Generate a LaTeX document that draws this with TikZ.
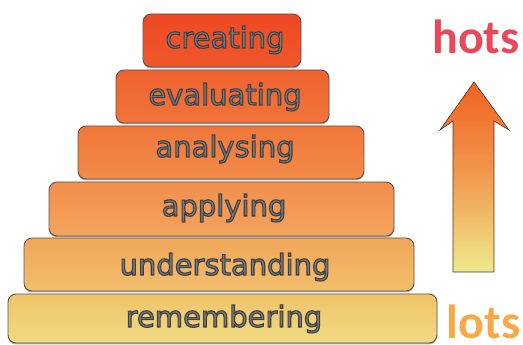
\documentclass[tikz,border=0pt]{standalone}
\usepackage{fontspec}
\setmainfont{DejaVu Sans}
\newfontfamily\calib{Carlito}
\usetikzlibrary{shadows}
\definecolor{tierline}{HTML}{555555}
\definecolor{txtgray}{HTML}{7A7A7A}
\definecolor{cAt}{HTML}{EE4923}
\definecolor{cAb}{HTML}{F0572B}
\definecolor{cBt}{HTML}{EF6230}
\definecolor{cBb}{HTML}{F2743A}
\definecolor{cCt}{HTML}{F0773A}
\definecolor{cCb}{HTML}{F38B48}
\definecolor{cDt}{HTML}{F28E4E}
\definecolor{cDb}{HTML}{F3A45C}
\definecolor{cEt}{HTML}{F1A75A}
\definecolor{cEb}{HTML}{F2BE6C}
\definecolor{cFt}{HTML}{F0C46A}
\definecolor{cFb}{HTML}{F0DA82}
\definecolor{arrtop}{HTML}{F0621E}
\definecolor{arrmid}{HTML}{F29A50}
\definecolor{arrbot}{HTML}{EEEA8C}
\definecolor{hotscol}{HTML}{E9485A}
\definecolor{lotscol}{HTML}{F9A845}
\newcommand\outlined[1]{\special{pdf:literal direct 0.25 0.25 0.25 RG 1.1 w 2 Tr}#1\special{pdf:literal direct 0 Tr}}
\begin{document}
\begin{tikzpicture}[x=1pt,y=1pt,
  tier/.style={draw=tierline, line width=0.9pt, rounded corners=8pt, inner sep=0pt,
    drop shadow={shadow xshift=0pt, shadow yshift=-1.5pt, opacity=0.3, fill=black}},
  lbl/.style={anchor=base, inner sep=0pt, font=\fontsize{29}{31}\selectfont, text=txtgray},
  side/.style={anchor=base, inner sep=0pt, font=\calib\bfseries\fontsize{48}{50}\selectfont},
]
\useasboundingbox (0,0) rectangle (523,345);
% tiers
\node[tier, top color=cAt, bottom color=cAb, minimum width=158, minimum height=53] (creating) at (222,304.5) {};
\node[tier, top color=cBt, bottom color=cBb, minimum width=213, minimum height=53] (evaluating) at (222.5,248.5) {};
\node[tier, top color=cCt, bottom color=cCb, minimum width=286, minimum height=53] (analysing) at (221,192.5) {};
\node[tier, top color=cDt, bottom color=cDb, minimum width=345, minimum height=54] (applying) at (221.5,136) {};
\node[tier, top color=cEt, bottom color=cEb, minimum width=390, minimum height=53] (understanding) at (219,80.5) {};
\node[tier, top color=cFt, bottom color=cFb, minimum width=429, minimum height=49] (remembering) at (222.5,26.5) {};
% labels
\node[lbl] (tA) at (225,297) {\outlined{creating}};
\node[lbl] (tB) at (225,240) {\outlined{evaluating}};
\node[lbl] (tC) at (225,188) {\outlined{analysing}};
\node[lbl] (tD) at (224,129) {\outlined{applying}};
\node[lbl] (tE) at (225,70) {\outlined{understanding}};
\node[lbl] (tF) at (224,18) {\outlined{remembering}};
% arrow
\draw[draw=black!60!brown, line width=0.6pt, top color=arrtop, bottom color=arrbot, middle color=arrmid]
  (474,263) -- (509,215) -- (494,224) -- (494,73) -- (453,73) -- (453,224) -- (440,215) -- cycle;
% side labels
\node[side, text=hotscol] (hots) at (476,291) {hots};
\node[side, text=lotscol] (lots) at (483.5,6) {lots};
\end{tikzpicture}
\end{document}
